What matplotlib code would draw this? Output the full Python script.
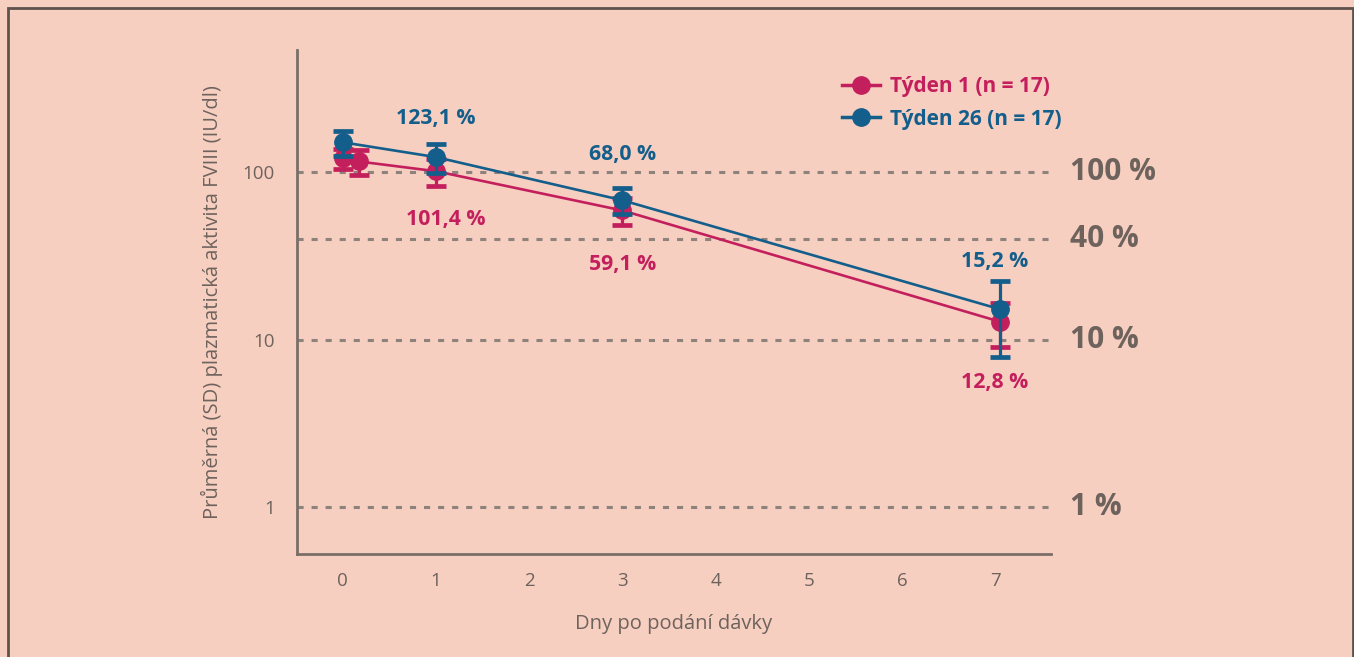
import matplotlib.pyplot as plt
from matplotlib.patches import Rectangle
from matplotlib.lines import Line2D

# Data (mean and SD, IU/dl)
dny_t1 = [0, 0.17, 1, 3, 7.05]
prumer_t1 = [121, 116, 101.4, 59.1, 12.8]
sd_t1 = [17, 20, 19, 11, 3.8]

dny_t26 = [0, 1, 3, 7.05]
prumer_t26 = [151, 123.1, 68.0, 15.2]
sd_t26 = [26, 24, 12, 7.3]

popisky_t1 = ['101,4 %', '59,1 %', '12,8 %']
popisky_t26 = ['123,1 %', '68,0 %', '15,2 %']

urovne = [100, 40, 10, 1]
urovne_text = ['100 %', '40 %', '10 %', '1 %']

x_ticks = [0, 1, 2, 3, 4, 5, 6, 7]
y_ticks = [1, 10, 100]

pozadi = '#F6CFC0'
ruzova = '#C41F5D'
modra = '#145E8C'
seda = '#6E625D'

plt.rcParams['font.family'] = ['Open Sans', 'DejaVu Sans']

fig = plt.figure(figsize=(13.54, 6.57), dpi=100, facecolor=pozadi)
ax = fig.add_axes([297 / 1354, 1 - 554 / 657, (1051 - 297) / 1354, (554 - 50) / 657])
ax.set_facecolor(pozadi)

# ramecek kolem obrazku
fig.patches.append(Rectangle((8 / 1354, -0.1), (1353 - 8) / 1354, 1.1 - 8 / 657,
                             transform=fig.transFigure, fill=False,
                             edgecolor='#5E524D', linewidth=2))

ax.set_yscale('log')
ax.set_xlim(-0.492, 7.6)
ax.set_ylim(10 ** (-47 / 167), 10 ** (2 + 122 / 167))

for u in urovne:
    ax.axhline(u, color='#8E827C', linestyle=(0, (2, 2.6)), linewidth=2.2, zorder=1)
for u, t in zip(urovne, urovne_text):
    ax.text(7.8, u, t, transform=ax.transData, ha='left', va='center',
            fontsize=21.5, fontweight='bold', color=seda, clip_on=False)

ax.errorbar(dny_t1, prumer_t1, yerr=sd_t1, color=ruzova, marker='o', markersize=12.5,
            linewidth=1.9, elinewidth=2.3, capsize=7, capthick=3.4, zorder=3)
ax.errorbar(dny_t26, prumer_t26, yerr=sd_t26, color=modra, marker='o', markersize=12.5,
            linewidth=1.9, elinewidth=2.3, capsize=7, capthick=3.4, zorder=4)

# popisky hodnot
for x, y, t, dy in zip([1.1, 3.0, 7.0], prumer_t1[2:], popisky_t1, [-35, -39, -44]):
    ax.annotate(t, (x, y), xytext=(0, dy), textcoords='offset points', ha='center',
                va='center', fontsize=15.3, fontweight='bold', color=ruzova)
for x, y, t, dy in zip([1.0, 3.0, 7.0], prumer_t26[1:], popisky_t26, [28, 33, 34]):
    ax.annotate(t, (x, y), xytext=(0, dy), textcoords='offset points', ha='center',
                va='center', fontsize=15.3, fontweight='bold', color=modra)

ax.set_xticks(x_ticks)
ax.set_yticks(y_ticks)
ax.set_yticklabels([str(v) for v in y_ticks])
ax.minorticks_off()
ax.tick_params(length=0, labelsize=13.5, colors=seda)
ax.tick_params(axis='x', pad=13)
ax.tick_params(axis='y', pad=16)

for s in ['top', 'right']:
    ax.spines[s].set_visible(False)
for s in ['left', 'bottom']:
    ax.spines[s].set_color('#7A6E69')
    ax.spines[s].set_linewidth(2)

ax.set_xlabel('Dny po podání dávky', fontsize=14.5, color=seda, labelpad=17)
ax.set_ylabel('Průměrná (SD) plazmatická aktivita FVIII (IU/dl)', fontsize=14.5,
              color=seda, labelpad=14)

h1 = Line2D([], [], color=ruzova, marker='o', markersize=12.5, linewidth=2.5)
h2 = Line2D([], [], color=modra, marker='o', markersize=12.5, linewidth=2.5)
leg = ax.legend([h1, h2], ['Týden 1 (n = 17)', 'Týden 26 (n = 17)'], loc='upper left',
                bbox_to_anchor=(0.698, 0.985), frameon=False, fontsize=15,
                handlelength=1.8, handletextpad=0.5, labelspacing=0.55)
for txt, c in zip(leg.get_texts(), [ruzova, modra]):
    txt.set_color(c)
    txt.set_fontweight('bold')

fig.savefig('out.png', dpi=100, facecolor=pozadi)
